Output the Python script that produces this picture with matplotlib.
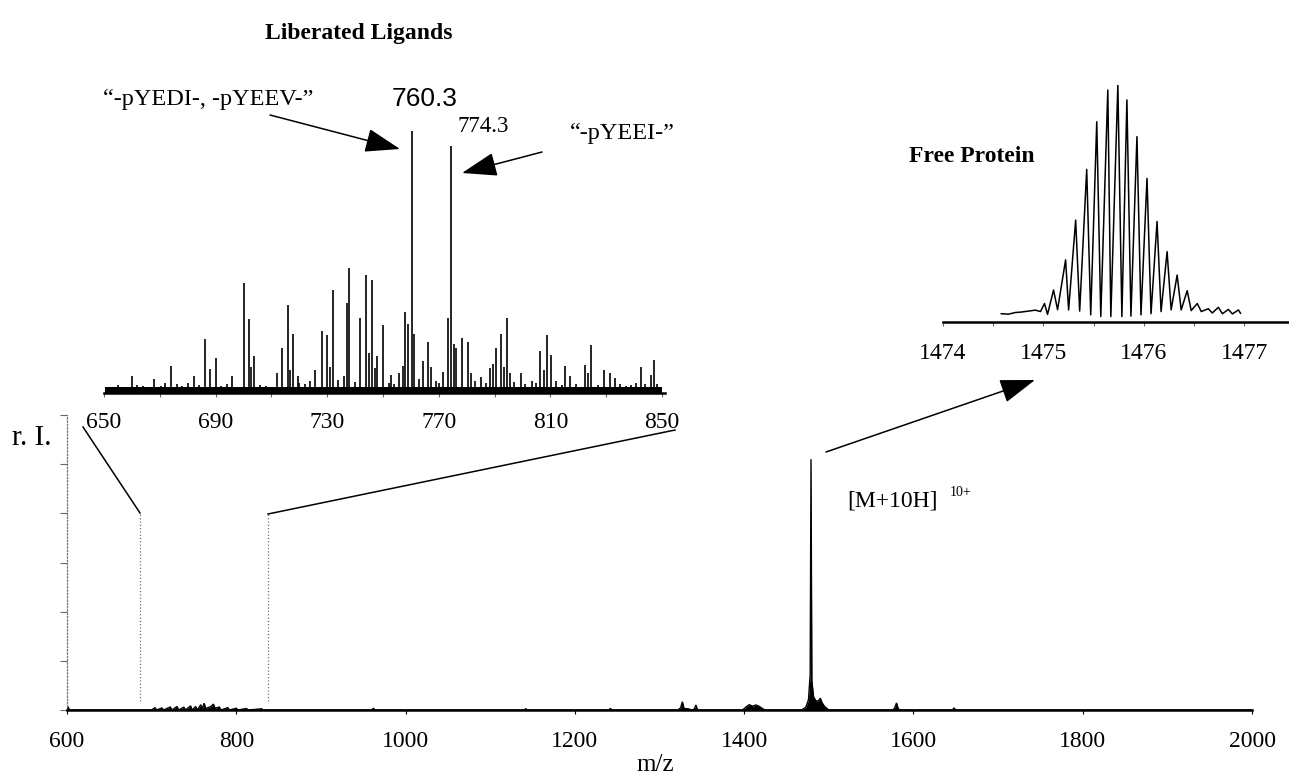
import matplotlib
matplotlib.use("Agg")
import matplotlib.pyplot as plt
from matplotlib.patches import FancyArrowPatch
from matplotlib.lines import Line2D

plt.rcParams['font.family'] = ['Liberation Serif', 'DejaVu Serif']

W, H = 1289, 778

# ---------------- data ----------------
# full spectrum (m/z 600-2000), relative intensity (%)
main_mz = [600, 601, 603, 700, 704, 706, 712, 714, 722, 724, 730, 732, 738, 740,
           746, 748, 752, 754, 758, 760, 762, 764, 770, 773, 775, 780, 782, 790,
           792, 800, 802, 812, 814, 830, 832, 960, 962, 964, 1140, 1142, 1144,
           1240, 1242, 1244, 1322, 1325, 1327, 1329, 1334, 1338, 1341, 1343, 1345,
           1398, 1403, 1406, 1410, 1414, 1418, 1422, 1425, 1468, 1473, 1476, 1478,
           1479, 1480, 1482, 1485, 1488, 1490, 1492, 1495, 1500, 1576, 1578, 1580,
           1582, 1584, 1646, 1648, 1650, 2000]
main_int = [0, 1.2, 0, 0, 0.8, 0, 0.7, 0, 1.0, 0, 1.2, 0, 1.0, 0,
            1.4, 0, 1.2, 0, 1.8, 0.5, 2.3, 0.5, 1.2, 2.0, 0.6, 1.0, 0, 0.8,
            0, 0.6, 0, 0.5, 0, 0.4, 0, 0, 0.6, 0, 0, 0.4, 0,
            0, 0.5, 0, 0, 0.8, 2.8, 0.5, 0.4, 0, 0.3, 1.7, 0,
            0, 1.2, 1.8, 1.3, 1.7, 1.2, 0.4, 0, 0, 1.0, 3.5, 12,
            85, 10, 4.5, 3.0, 3.2, 4.0, 2.5, 1.2, 0, 0, 0.8, 2.4,
            0.5, 0, 0, 0.7, 0, 0]
main_ticks = [600, 800, 1000, 1200, 1400, 1600, 1800, 2000]
zoom_marks = [686, 838]          # dotted markers of the zoomed window

# liberated ligands inset (m/z 650-850), relative intensity (%)
lig_mz = [659.9, 662.0, 668.0, 670.3, 672.0, 673.9, 680.0, 682.2, 686.2, 687.9,
          690.0, 696.0, 700.0, 702.0, 702.7, 703.9, 711.9, 713.9, 715.9, 716.7,
          717.9, 719.4, 725.6, 728.0, 729.9, 731.0, 732.0, 735.9, 737.2, 737.9,
          741.9, 743.9, 745.0, 746.0, 747.0, 747.9, 749.9, 753.0, 755.9, 757.0,
          758.0, 759.1, 760.3, 761.2, 764.3, 766.2, 767.2, 771.6, 773.4, 774.3,
          775.4, 776.3, 778.3, 780.3, 781.4, 785.2, 788.3, 789.4, 790.6, 792.3,
          793.4, 794.6, 795.4, 799.4, 803.4, 806.3, 807.6, 808.6, 810.3, 815.4,
          817.2, 822.3, 823.6, 824.6, 829.2, 831.4, 833.2, 840.6, 842.3, 845.9,
          847.2, 848.3,
          655, 664, 676, 678, 684, 692, 694, 706, 708, 720, 722, 724, 734, 740,
          752, 754, 763, 769, 770, 783, 787, 797, 801, 805, 812, 814, 819, 827,
          835, 837, 839, 844]
lig_int = [6.3, 3.1, 5.3, 2.5, 3.8, 10.3, 4.0, 6.5, 20.6, 9.0,
           13.4, 6.3, 41.8, 28.3, 10.0, 14.1, 7.5, 17.2, 33.7, 8.8,
           22.6, 6.5, 8.8, 23.5, 22.0, 10.1, 39.2, 6.5, 34.3, 47.7,
           28.5, 45.2, 15.1, 43.3, 9.5, 14.1, 25.8, 6.9, 7.5, 10.3,
           31.0, 26.4, 100.0, 22.6, 12.3, 19.5, 10.1, 8.2, 28.6, 94.3,
           18.8, 17.0, 21.1, 19.3, 7.5, 6.0, 9.4, 11.0, 17.2, 22.6,
           9.8, 28.6, 7.5, 7.5, 4.4, 16.0, 8.8, 22.2, 14.4, 10.3,
           6.3, 10.7, 7.8, 18.2, 8.8, 7.8, 5.7, 4.0, 10.1, 6.9,
           12.6, 3.5,
           3.0, 2.8, 3.5, 2.6, 3.2, 2.8, 3.6, 3.0, 2.7, 4.0, 3.4, 4.5, 5.0, 4.2,
           4.0, 3.6, 5.2, 4.4, 3.8, 4.6, 3.9, 4.2, 3.5, 3.8, 4.4, 3.2, 3.6, 3.0,
           3.4, 2.8, 3.1, 3.6]
lig_ticks = [650, 690, 730, 770, 810, 850]
lig_minor = [670, 710, 750, 790, 830]

# free protein inset (isotope envelope of [M+10H]10+)
free_mz = [1474.58, 1474.65, 1474.72, 1474.78, 1474.85, 1474.92, 1474.97, 1475.01,
           1475.04, 1475.10, 1475.14, 1475.22, 1475.25, 1475.32, 1475.36, 1475.43,
           1475.47, 1475.53, 1475.57, 1475.64, 1475.67, 1475.74, 1475.78, 1475.83,
           1475.87, 1475.93, 1475.97, 1476.03, 1476.07, 1476.13, 1476.17, 1476.23,
           1476.27, 1476.33, 1476.37, 1476.43, 1476.47, 1476.53, 1476.57, 1476.64,
           1476.68, 1476.74, 1476.78, 1476.84, 1476.88, 1476.94, 1476.96]
free_int = [3.5, 3.3, 4.0, 4.2, 4.6, 5.0, 4.4, 7.8,
            3.2, 13.5, 5.2, 26.2, 5.1, 43.0, 4.6, 64.4,
            3.0, 84.5, 2.3, 97.9, 2.3, 100.0, 2.3, 93.7,
            2.5, 78.2, 3.0, 60.6, 3.5, 42.4, 4.4, 29.7,
            5.1, 19.8, 5.1, 13.2, 4.8, 7.8, 4.4, 5.6,
            3.8, 6.2, 3.5, 5.3, 3.4, 5.1, 3.7]
free_ticks = [1474, 1475, 1476, 1477]
free_minor = [1474.5, 1475.5, 1476.5]

# ---------------- figure ----------------
fig = plt.figure(figsize=(W / 100, H / 100), dpi=100)


def add_ax(x0, ytop, x1, ybot):
    return fig.add_axes([x0 / W, 1 - ybot / H, (x1 - x0) / W, (ybot - ytop) / H])


def P(x, y):
    return (x / W, 1 - y / H)


def style_axis(ax):
    for s in ('top', 'right'):
        ax.spines[s].set_visible(False)
    ax.spines['bottom'].set_linewidth(1.8)
    ax.patch.set_alpha(0)


# main axes
ax = add_ax(67, 415, 1252, 710)
style_axis(ax)
ax.set_xlim(600, 2000)
ax.set_ylim(0, 100)
ax.spines['left'].set_linestyle(':')
ax.spines['left'].set_color('0.45')
ax.spines['left'].set_linewidth(0.9)
ax.plot(main_mz, main_int, color='black', lw=1.0, solid_joinstyle='miter')
ax.fill_between(main_mz, 0, main_int, color='black', lw=0)
ax.set_xticks(main_ticks)
ax.set_xticklabels([str(t) for t in main_ticks], fontsize=17)
ax.tick_params(axis='x', length=3, width=0.8, pad=12, direction='out')
ax.set_yticks([0, 16.67, 33.33, 50, 66.67, 83.33, 100])
ax.set_yticklabels([])
ax.tick_params(axis='y', length=5, width=0.8, color='0.4', direction='out')
ax.vlines(zoom_marks, 3, 66.8, colors='0.45', linestyles=':', lw=0.9)

# liberated ligands inset
ax2 = add_ax(104, 131, 664.8, 393)
style_axis(ax2)
ax2.spines['left'].set_visible(False)
ax2.set_xlim(650, 851)
ax2.set_ylim(0, 100)
ax2.fill_between([650.5, 850], 0, 2.4, color='black', lw=0)
ax2.vlines(lig_mz, 0, lig_int, colors='black', lw=1.2)
ax2.set_xticks(lig_ticks)
ax2.set_xticklabels([str(t) for t in lig_ticks], fontsize=17)
ax2.set_xticks(lig_minor, minor=True)
ax2.tick_params(axis='x', which='both', length=3, width=0.8, color='0.4', pad=11)
ax2.set_yticks([])

# free protein inset
ax3 = add_ax(943, 85, 1289.7, 322)
style_axis(ax3)
ax3.spines['left'].set_visible(False)
ax3.set_xlim(1474, 1477.45)
ax3.set_ylim(0, 100)
ax3.plot(free_mz, free_int, color='black', lw=1.1)
ax3.set_xticks(free_ticks)
ax3.set_xticklabels([str(t) for t in free_ticks], fontsize=17)
ax3.set_xticks(free_minor, minor=True)
ax3.tick_params(axis='x', which='both', length=3, width=0.8, color='0.4', pad=12)
ax3.set_yticks([])

# connector lines
for (a, b) in [((83, 427), (140, 513)), ((268, 514), (675, 430))]:
    fig.add_artist(Line2D([P(*a)[0], P(*b)[0]], [P(*a)[1], P(*b)[1]],
                          transform=fig.transFigure, color='black', lw=1.1))

# arrows
for tail, tip in [((270, 115), (400, 149)), ((542, 152), (462, 173)),
                  ((826, 452), (1035, 380))]:
    fig.add_artist(FancyArrowPatch(P(*tail), P(*tip), transform=fig.transFigure,
                                   arrowstyle='-|>,head_length=2.2,head_width=0.75',
                                   mutation_scale=10, lw=1.1, color='black',
                                   shrinkA=0, shrinkB=0))

# texts
def T(x, y, s, **kw):
    fig.text(x / W, 1 - y / H, s, **kw)

T(265, 33, 'Liberated Ligands', fontsize=17, fontweight='bold', ha='left', va='center')
T(1035, 156, 'Free Protein', fontsize=17, fontweight='bold', ha='right', va='center')
T(103, 100, '\u201c-pYEDI-, -pYEEV-\u201d', fontsize=17.5, ha='left', va='center')
T(425, 99, '760.3', fontsize=19, ha='center', va='center', family=['Liberation Sans', 'DejaVu Sans'])
T(483, 126, '774.3', fontsize=16.5, ha='center', va='center')
T(570, 133, '\u201c-pYEEI-\u201d', fontsize=17.5, ha='left', va='center')
T(847, 501, '[M+10H]', fontsize=17, ha='left', va='center')
T(950, 493, '10+', fontsize=10, ha='left', va='center')
T(12, 438, 'r. I.', fontsize=21, ha='left', va='center')
T(655, 765, 'm/z', fontsize=18, ha='center', va='center')

fig.savefig('out.png', dpi=100)
